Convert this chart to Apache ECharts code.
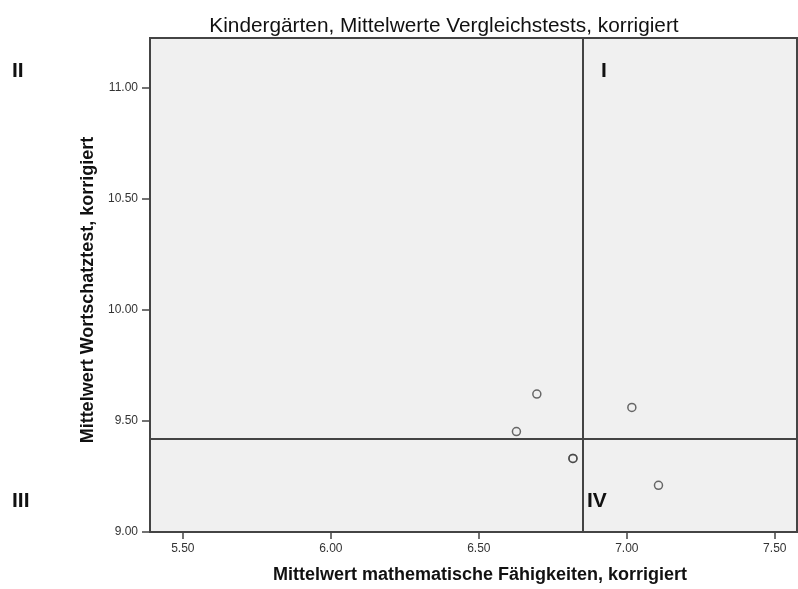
<!DOCTYPE html>
<html>
<head>
<meta charset="utf-8">
<script src="https://cdn.jsdelivr.net/npm/echarts@6/dist/echarts.min.js"></script>
<style>
  html, body { margin: 0; padding: 0; background: #fff; }
  #chart { width: 798px; height: 589px; }
</style>
</head>
<body>
<div id="chart"></div>
<script>
  // Mittelwerte je Kindergarten: [Mathe, Wortschatz]
  const mathWerte = [6.696, 6.627, 7.017, 6.818, 6.818, 7.107];
  const wortWerte = [9.621, 9.452, 9.561, 9.331, 9.331, 9.210];
  const xTicks = [5.5, 6.0, 6.5, 7.0, 7.5];
  const yTicks = [9.0, 9.5, 10.0, 10.5, 11.0];
  const mittelX = 6.848;
  const mittelY = 9.418;
  const quadranten = ['I', 'II', 'III', 'IV'];

  const fontFam = '"Liberation Sans", Arial, sans-serif';
  const punkte = mathWerte.map((v, i) => [v, wortWerte[i]]);

  const chart = echarts.init(document.getElementById('chart'));

  const quadText = (txt, left, top) => ({
    type: 'text',
    left: left,
    top: top,
    style: {
      text: txt,
      font: 'bold 21px ' + fontFam,
      fill: '#111'
    }
  });

  const options = {
    animation: false,
    title: {
      text: 'Kindergärten, Mittelwerte Vergleichstests, korrigiert',
      left: 439,
      top: 11,
      textAlign: 'center',
      textStyle: {
        fontFamily: fontFam,
        fontSize: 20.8,
        fontWeight: 'normal',
        color: '#111'
      }
    },
    grid: {
      left: 150,
      right: 1,
      top: 38,
      bottom: 54,
      show: true,
      backgroundColor: '#f0f0f0',
      borderColor: '#444',
      borderWidth: 2
    },
    xAxis: {
      type: 'value',
      min: 5.389,
      max: 7.575,
      name: 'Mittelwert mathematische Fähigkeiten, korrigiert',
      nameLocation: 'middle',
      nameGap: 34,
      nameTextStyle: {
        fontFamily: fontFam,
        fontSize: 18,
        fontWeight: 'bold',
        color: '#111',
        padding: [0, 0, 0, 13]
      },
      splitLine: { show: false },
      axisLine: { show: true, lineStyle: { color: '#444', width: 2 } },
      axisTick: {
        show: true,
        length: 7,
        customValues: xTicks,
        lineStyle: { color: '#444', width: 1.5 }
      },
      axisLabel: {
        customValues: xTicks,
        margin: 11,
        fontFamily: fontFam,
        fontSize: 12,
        color: '#333',
        formatter: (v) => v.toFixed(2)
      }
    },
    yAxis: {
      type: 'value',
      min: 9.0,
      max: 11.224,
      name: 'Mittelwert Wortschatztest, korrigiert',
      nameLocation: 'middle',
      nameGap: 51,
      nameTextStyle: {
        fontFamily: fontFam,
        fontSize: 18,
        fontWeight: 'bold',
        color: '#111',
        padding: [0, 10, 0, 0]
      },
      splitLine: { show: false },
      axisLine: { show: true, lineStyle: { color: '#444', width: 2 } },
      axisTick: {
        show: true,
        length: 8,
        customValues: yTicks,
        lineStyle: { color: '#444', width: 1.5 }
      },
      axisLabel: {
        customValues: yTicks,
        margin: 12,
        fontFamily: fontFam,
        fontSize: 12,
        color: '#333',
        formatter: (v) => v.toFixed(2)
      }
    },
    series: [
      {
        type: 'scatter',
        data: punkte,
        symbol: 'circle',
        symbolSize: 8,
        itemStyle: {
          color: 'rgba(0,0,0,0)',
          borderColor: '#444',
          borderWidth: 1.5
        },
        markLine: {
          silent: true,
          symbol: ['none', 'none'],
          label: { show: false },
          lineStyle: { color: '#444', width: 2, type: 'solid' },
          data: [
            { xAxis: mittelX },
            { yAxis: mittelY }
          ]
        }
      }
    ],
    graphic: [
      quadText(quadranten[0], 601, 61),
      quadText(quadranten[1], 12, 61),
      quadText(quadranten[2], 12, 491),
      quadText(quadranten[3], 587, 491)
    ]
  };

  chart.setOption(options);
</script>
</body>
</html>
